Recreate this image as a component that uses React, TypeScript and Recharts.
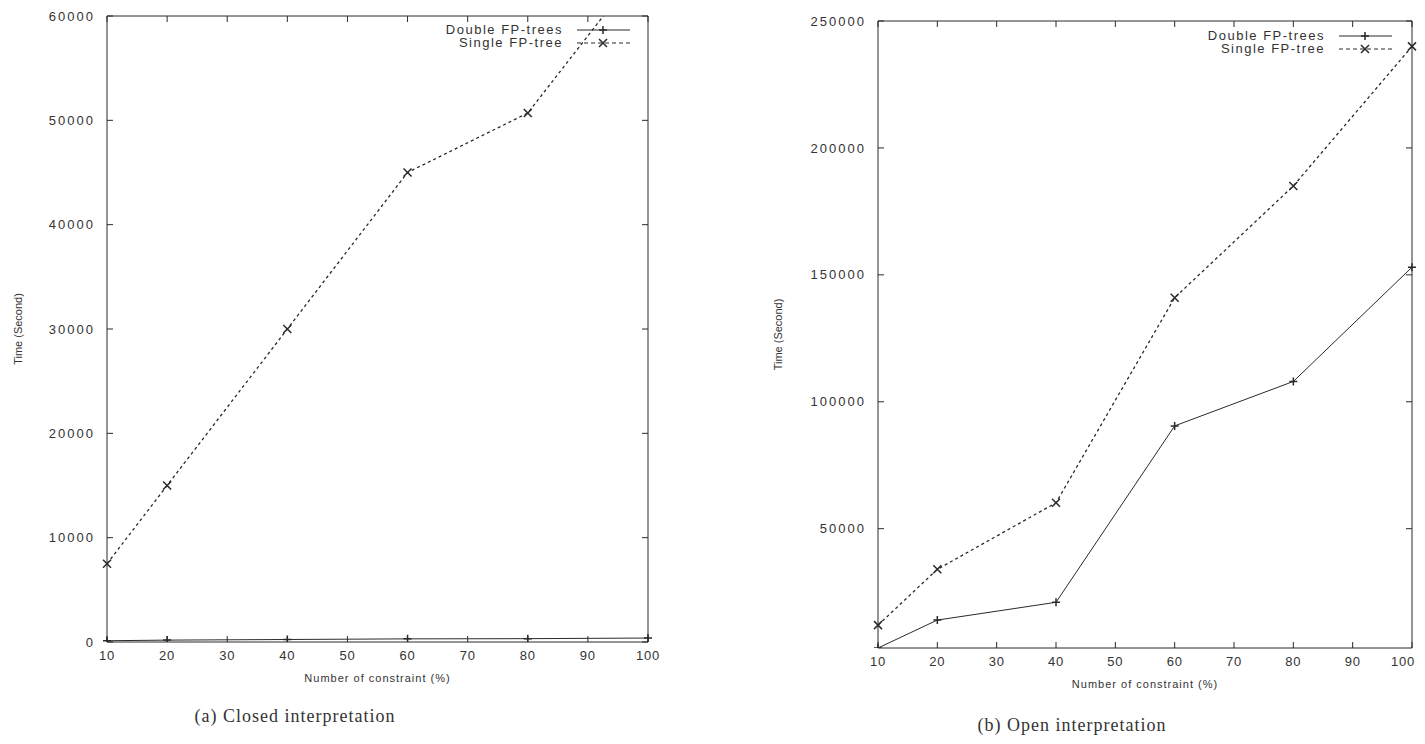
import React from "react";
import { LineChart, Line, XAxis, YAxis } from "recharts";

const constraints = [10, 20, 40, 60, 80, 100];
const xTicks = [10, 20, 30, 40, 50, 60, 70, 80, 90, 100];

const closedDouble = [120, 180, 240, 300, 320, 380];
const closedSingle = [7500, 15000, 30000, 45000, 50700, 65500];
const closedTicks = [0, 10000, 20000, 30000, 40000, 50000, 60000];

const openDouble = [3000, 14000, 21000, 90500, 108000, 153000];
const openSingle = [12000, 34000, 60200, 141000, 185000, 240000];
const openTicks = [50000, 100000, 150000, 200000, 250000];

const closedData = constraints.map((c, i) => ({ x: c, double: closedDouble[i], single: closedSingle[i] }));
const openData = constraints.map((c, i) => ({ x: c, double: openDouble[i], single: openSingle[i] }));

const ink = "#2a2a2a";
const tickStyle = { fontFamily: "Liberation Sans", fontSize: 13, fill: "#333", letterSpacing: 2 };
const titleStyle = { fontFamily: "Liberation Sans", fontSize: 11, fill: "#333" };
const captionStyle: React.CSSProperties = {
  position: "absolute",
  width: 300,
  textAlign: "center",
  whiteSpace: "nowrap",
  fontFamily: "Liberation Serif",
  fontSize: 18,
  letterSpacing: 1,
  color: "#333",
};

// x tick label; on the right panel the last one is right aligned so it stays inside the page
const makeXTick = (pinLast: boolean) => (p: any) => {
  const last = pinLast && p.payload.value === 100;
  return (
    <text
      x={last ? p.x + 3 : p.x}
      y={p.y}
      dy="0.71em"
      textAnchor={last ? "end" : "middle"}
      style={{ fontFamily: "Liberation Sans", fontSize: 13, fill: "#333", letterSpacing: 0.8 }}
    >
      {p.payload.value}
    </text>
  );
};

const Plus = (p: any) => (
  <path
    key={`p${p.index}`}
    d={`M${p.cx - 4},${p.cy}L${p.cx + 4},${p.cy}M${p.cx},${p.cy - 4}L${p.cx},${p.cy + 4}`}
    stroke={ink}
    strokeWidth={1.5}
    fill="none"
  />
);

const Cross = (p: any) => (
  <path
    key={`c${p.index}`}
    d={`M${p.cx - 4},${p.cy - 4}L${p.cx + 4},${p.cy + 4}M${p.cx + 4},${p.cy - 4}L${p.cx - 4},${p.cy + 4}`}
    stroke={ink}
    strokeWidth={1.5}
    fill="none"
  />
);

// gnuplot-like legend: label right aligned, then a line sample with its marker
const Key = ({ left, top }: { left: number; top: number }) => (
  <svg style={{ position: "absolute", left, top }} width={260} height={32}>
    <text x={183} y={12} textAnchor="end" style={{ ...tickStyle, letterSpacing: 1.5 }}>Double FP-trees</text>
    <line x1={197} x2={250} y1={8} y2={8} stroke={ink} strokeWidth={1} />
    <path d="M219,8L227,8M223,4L223,12" stroke={ink} strokeWidth={1.5} />
    <text x={183} y={25} textAnchor="end" style={{ ...tickStyle, letterSpacing: 1.5 }}>Single FP-tree</text>
    <line x1={197} x2={250} y1={21} y2={21} stroke={ink} strokeWidth={1} strokeDasharray="4 3" />
    <path d="M219,17L227,25M227,17L219,25" stroke={ink} strokeWidth={1.5} />
  </svg>
);

type PanelProps = {
  data: any[];
  yTicks: number[];
  yDomain: [number, number];
  width: number;
  margin: { top: number; right: number; bottom: number; left: number };
  yAxisWidth: number;
  titleOffset: number;
  pinLast: boolean;
};

const Panel = ({ data, yTicks, yDomain, width, margin, yAxisWidth, titleOffset, pinLast }: PanelProps) => (
  <LineChart width={width} height={744} data={data} margin={margin}>
    <XAxis
      dataKey="x"
      type="number"
      domain={[10, 100]}
      ticks={xTicks}
      interval={0}
      height={30}
      stroke={ink}
      tickSize={-6}
      tickMargin={15}
      tick={makeXTick(pinLast)}
      label={{ value: "Number of constraint (%)", position: "bottom", offset: 2, style: { ...titleStyle, letterSpacing: 1 } }}
    />
    <XAxis
      xAxisId="top"
      orientation="top"
      dataKey="x"
      type="number"
      domain={[10, 100]}
      ticks={xTicks}
      interval={0}
      height={1}
      stroke={ink}
      tickSize={-6}
      tickFormatter={() => ""}
    />
    <YAxis
      type="number"
      domain={yDomain}
      ticks={yTicks}
      interval={0}
      allowDataOverflow
      width={yAxisWidth}
      stroke={ink}
      tickSize={-6}
      tickMargin={18}
      tick={tickStyle}
      label={{ value: "Time (Second)", angle: -90, position: "insideLeft", offset: titleOffset, style: { ...titleStyle, textAnchor: "middle" } }}
    />
    <YAxis
      yAxisId="right"
      orientation="right"
      type="number"
      domain={yDomain}
      ticks={yTicks}
      interval={0}
      allowDataOverflow
      width={1}
      stroke={ink}
      tickSize={-6}
      tickFormatter={() => ""}
    />
    <Line
      dataKey="double"
      type="linear"
      stroke={ink}
      strokeWidth={1}
      dot={Plus}
      activeDot={false}
      isAnimationActive={false}
    />
    <Line
      dataKey="single"
      type="linear"
      stroke={ink}
      strokeWidth={1.3}
      strokeDasharray="3 3"
      dot={Cross}
      activeDot={false}
      isAnimationActive={false}
    />
  </LineChart>
);

export default function App() {
  return (
    <div style={{ position: "relative", width: 1425, height: 744, margin: -8, background: "#fff", overflow: "hidden" }}>
      <div style={{ position: "absolute", left: 0, top: 0 }}>
        <Panel
          data={closedData}
          yTicks={closedTicks}
          yDomain={[0, 60000]}
          width={700}
          margin={{ top: 15, right: 51, bottom: 72, left: 7 }}
          yAxisWidth={100}
          titleOffset={11}
          pinLast={false}
        />
      </div>
      <div style={{ position: "absolute", left: 760, top: 0 }}>
        <Panel
          data={openData}
          yTicks={openTicks}
          yDomain={[3000, 250000]}
          width={665}
          margin={{ top: 20, right: 12, bottom: 66, left: 8 }}
          yAxisWidth={110}
          titleOffset={10}
          pinLast={true}
        />
      </div>
      <Key left={380} top={22} />
      <Key left={1142} top={28} />
      <div style={{ ...captionStyle, left: 145, top: 706 }}>(a) Closed interpretation</div>
      <div style={{ ...captionStyle, left: 922, top: 715 }}>(b) Open interpretation</div>
    </div>
  );
}
